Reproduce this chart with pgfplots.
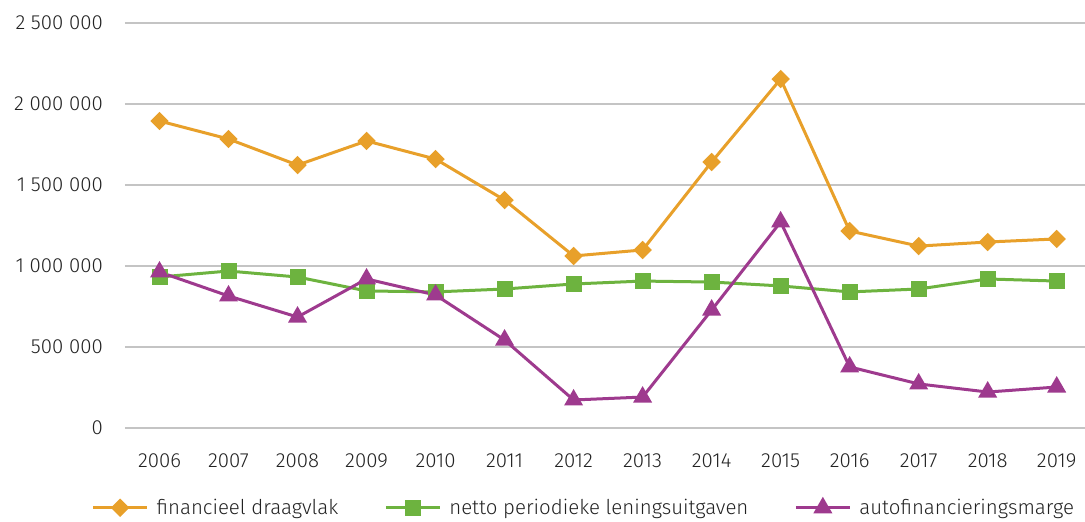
\documentclass[border=0pt]{standalone}
\usepackage{pgfplots}
\pgfplotsset{compat=1.18}
\usepackage{fontspec}
\setmainfont{Fira Sans Light}
\definecolor{cOr}{HTML}{E8A02A}
\definecolor{cGr}{HTML}{6DB33F}
\definecolor{cPu}{HTML}{9E3A8E}
\definecolor{cGrid}{HTML}{C4C4C4}
\definecolor{cTxt}{HTML}{222222}
\begin{document}
\begin{tikzpicture}
\begin{axis}[
  name=ax,
  scale only axis,
  width=960bp, height=405bp,
  xmin=-0.5, xmax=13.41,
  ymin=0, ymax=2500000,
  xtick={0,...,13},
  xticklabels={2006,2007,2008,2009,2010,2011,2012,2013,2014,2015,2016,2017,2018,2019},
  ytick={0,500000,1000000,1500000,2000000,2500000},
  yticklabels={0,500 000,1 000 000,1 500 000,2 000 000,2 500 000},
  scaled y ticks=false,
  ymajorgrids,
  grid style={cGrid, line width=1.2bp},
  axis line style={draw=none},
  major tick length=0pt,
  tick label style={font=\fontsize{20.5}{24}\selectfont, text=cTxt},
  yticklabel style={inner xsep=0pt, xshift=-22bp},
  xticklabel style={yshift=-22bp},
  clip=false,
  legend columns=3,
  legend style={draw=none, fill=none, at={(0.478,-0.197)}, anchor=center,
    font=\fontsize{20.5}{24}\selectfont, text=cTxt,
    /tikz/every odd column/.append style={column sep=6bp},
    /tikz/every even column/.append style={column sep=44bp}},
  legend image code/.code={\draw[mark repeat=2,mark phase=2,#1] plot coordinates {(0bp,0bp) (27bp,0bp) (54bp,0bp)};},
]
\addplot[cOr, line width=3bp, mark=square*, mark size=5bp, mark options={rotate=45, solid, fill=cOr}] coordinates {
(0,1895000) (1,1784000) (2,1623000) (3,1772000) (4,1660000) (5,1407000) (6,1062000)
(7,1099000) (8,1642000) (9,2154000) (10,1216000) (11,1123000) (12,1148000) (13,1167000)};
\addlegendentry{financieel draagvlak}
\addplot[cGr, line width=3bp, mark=square*, mark size=6.5bp, mark options={solid, fill=cGr}] coordinates {
(0,932000) (1,969000) (2,932000) (3,846000) (4,840000) (5,858000) (6,889000)
(7,907000) (8,901000) (9,877000) (10,840000) (11,858000) (12,920000) (13,907000)};
\addlegendentry{netto periodieke leningsuitgaven}
\addplot[cPu, line width=3bp, mark=triangle*, mark size=8bp, mark options={solid, fill=cPu}] coordinates {
(0,963000) (1,815000) (2,685000) (3,920000) (4,821000) (5,543000) (6,173000)
(7,191000) (8,728000) (9,1272000) (10,377000) (11,272000) (12,222000) (13,253000)};
\addlegendentry{autofinancieringsmarge}
\end{axis}
\pgfresetboundingbox
\path ([xshift=-125bp,yshift=-94bp]ax.south west) rectangle ([yshift=23bp]ax.north east);
\end{tikzpicture}
\end{document}
